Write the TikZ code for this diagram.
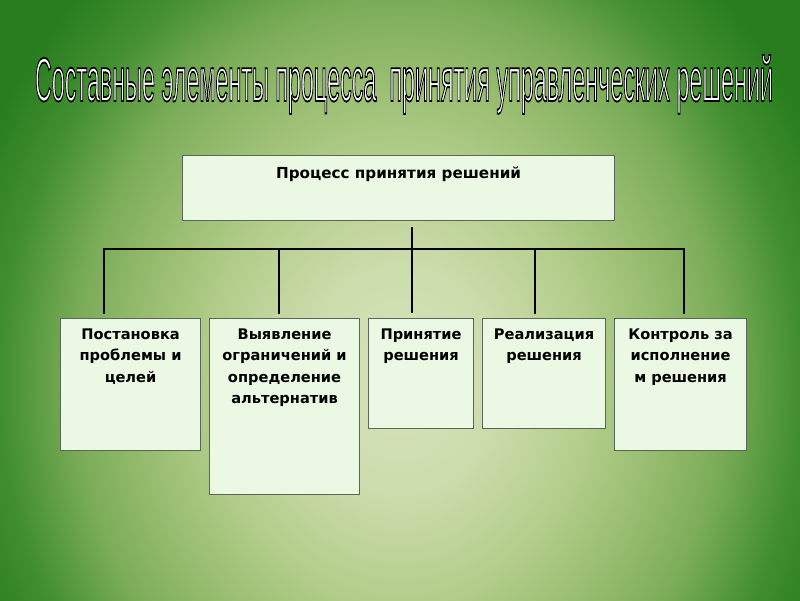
\documentclass[tikz,border=0pt]{standalone}
\usepackage{fontspec}
\setmainfont{DejaVu Sans}
\newfontfamily\titlefont{Liberation Sans}
\usepackage{graphicx}
\usetikzlibrary{positioning}

\definecolor{boxfill}{RGB}{234,248,228}
\definecolor{boxline}{RGB}{90,102,90}
\definecolor{bgA}{RGB}{214,228,188}
\definecolor{bgB}{RGB}{205,220,172}
\definecolor{bgC}{RGB}{178,205,138}
\definecolor{bgD}{RGB}{150,188,110}
\definecolor{bgE}{RGB}{122,172,88}
\definecolor{bgF}{RGB}{65,142,48}
\definecolor{bgG}{RGB}{40,125,30}
\definecolor{bgH}{RGB}{36,120,26}

\pgfdeclareradialshading{slidebg}{\pgfpoint{0bp}{0bp}}{%
  color(0bp)=(bgA); color(5bp)=(bgB); color(10bp)=(bgC); color(13.75bp)=(bgD);
  color(17bp)=(bgE); color(20.8bp)=(bgF); color(24bp)=(bgG); color(50bp)=(bgH)}

% white letters with a black rim
\newcommand{\rimtext}[1]{\special{pdf:literal direct 2 Tr 0 G 0.3 w}#1\special{pdf:literal direct 0 Tr}}
% text pinned to the top of a box of fixed size
\newcommand{\stagetext}[3]{\parbox[c][#2][t]{#1}{\centering #3}}

\begin{document}
\begin{tikzpicture}[
    stage/.style={draw=boxline, fill=boxfill, line width=0.8pt, anchor=north west,
      inner xsep=0.1cm, inner ysep=0.25cm, font=\bfseries\fontsize{10.4}{15.3}\selectfont},
    link/.style={line width=1.4pt, black, line join=miter},
    title/.style={anchor=base, text=white, inner sep=0pt, font=\titlefont}
]
\useasboundingbox (0,0) rectangle (20,-15);
\begin{scope}
  \clip (0,0) rectangle (20,-15);
  \shade[shading=slidebg] (-2,4.5) rectangle (22,-23.5);
\end{scope}

\node[title] (title) at (10.1,-2.525) {\resizebox{18.45cm}{1.15cm}{\rimtext{Составные элементы процесса \ принятия управленческих решений}}};

% top box
\node[stage, inner ysep=0.275cm, font=\bfseries\fontsize{10.8}{13}\selectfont] (top) at (4.55,-3.875)
  {\stagetext{10.6cm}{1.075cm}{Процесс принятия решений}};

% stages
\node[stage] (b1) at (1.5,-7.95) {\stagetext{3.3cm}{2.8cm}{Постановка\\проблемы и\\целей}};
\node[stage] (b2) at (5.225,-7.95) {\stagetext{3.55cm}{3.9cm}{Выявление\\ограничений и\\определение\\альтернатив}};
\node[stage] (b3) at (9.2,-7.95) {\stagetext{2.425cm}{2.25cm}{Принятие\\решения}};
\node[stage] (b4) at (12.05,-7.95) {\stagetext{2.875cm}{2.25cm}{Реализация\\решения}};
\node[stage] (b5) at (15.35,-7.95) {\stagetext{3.1cm}{2.8cm}{Контроль за\\исполнение\\м решения}};

% bus
\foreach \n/\x in {1/2.6, 2/6.975, 3/10.3, 4/13.375, 5/17.1}
  \coordinate (d\n) at (\x,-6.225);
\draw[link, shorten <=0.1cm, shorten >=0.1cm] (d1 |- b1.north) -- (d1) -- (d5) -- (d5 |- b5.north);
\foreach \n in {2,4}
  \draw[link, shorten >=0.1cm] (d\n) -- (d\n |- b\n.north);
\draw[link, shorten <=0.15cm, shorten >=0.125cm] (top.south -| d3) -- (d3 |- b3.north);
\end{tikzpicture}
\end{document}
